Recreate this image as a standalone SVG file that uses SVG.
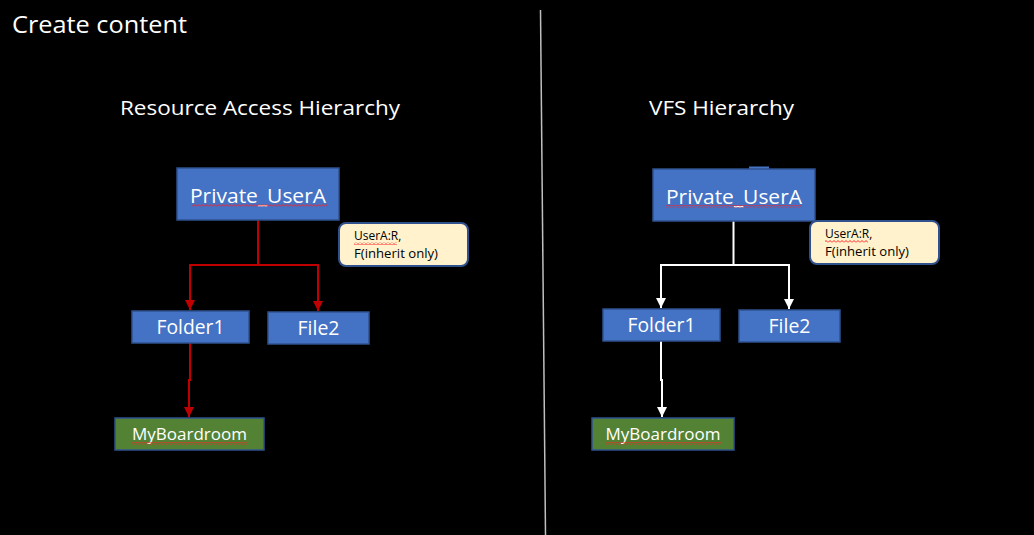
<svg xmlns="http://www.w3.org/2000/svg" width="1034" height="535" viewBox="0 0 1034 535">
<style>
text{font-family:"Open Sans","Liberation Sans",sans-serif;}
.t{fill:#fff;}
.box{fill:#4472C4;stroke:#2F528F;stroke-width:1.5;}
.grn{fill:#548235;stroke:#2F528F;stroke-width:1.5;}
.note{fill:#FFF2CC;stroke:#2F528F;stroke-width:2;}
.lbl{fill:#fff;font-size:20px;text-anchor:middle;}
.sm{fill:#fff;font-size:17px;text-anchor:middle;}
.nt{fill:#000;font-size:12px;}
.red{fill:none;stroke:#C00000;stroke-width:2;}
.wht{fill:none;stroke:#fff;stroke-width:2;}
</style>
<defs>
<marker id="ar" markerUnits="userSpaceOnUse" markerWidth="10" markerHeight="10" refX="10" refY="5" orient="auto"><path d="M0,0 L10,5 L0,10 z" fill="#C00000"/></marker>
<marker id="aw" markerUnits="userSpaceOnUse" markerWidth="10" markerHeight="10" refX="10" refY="5" orient="auto"><path d="M0,0 L10,5 L0,10 z" fill="#fff"/></marker>
<pattern id="sq" patternUnits="userSpaceOnUse" width="4" height="3"><path d="M0,2.5 L2,0.5 L4,2.5" fill="none" stroke="#FF2020" stroke-width="1"/></pattern>
</defs>
<rect width="1034" height="535" fill="#000"/>
<text class="t" x="12" y="33" font-size="24" textLength="175" lengthAdjust="spacingAndGlyphs">Create content</text>
<text class="t" x="120" y="115" font-size="20" textLength="280" lengthAdjust="spacingAndGlyphs">Resource Access Hierarchy</text>
<text class="t" x="649" y="115" font-size="20" textLength="145" lengthAdjust="spacingAndGlyphs">VFS Hierarchy</text>
<line x1="540.5" y1="10" x2="545.5" y2="535" stroke="#BFBFBF" stroke-width="1.5"/>

<g id="connectors">
<path class="red" d="M258,220 V265 H190 V310" marker-end="url(#ar)"/>
<path class="red" d="M258,265 H318 V311" marker-end="url(#ar)"/>
<path class="red" d="M190,343 V380 H189 V417" marker-end="url(#ar)"/>
<path class="wht" d="M733.5,221 V265 H661 V308" marker-end="url(#aw)"/>
<path class="wht" d="M733.5,265 H789 V309" marker-end="url(#aw)"/>
<path class="wht" d="M661,341 V380 H662 V417" marker-end="url(#aw)"/>
</g>

<g id="ra-private">
<rect class="box" x="177" y="168" width="162" height="52"/>
<text class="lbl" x="258" y="203" textLength="136" lengthAdjust="spacingAndGlyphs">Private_UserA</text>
<rect x="192" y="204" width="136" height="3" fill="url(#sq)"/>
</g>
<g id="ra-note">
<rect class="note" x="339" y="223" width="129" height="43" rx="7"/>
<text class="nt" x="354" y="240">UserA:R,</text>
<text class="nt" x="354" y="258" textLength="84" lengthAdjust="spacingAndGlyphs">F(inherit only)</text>
<rect x="354" y="242" width="43" height="3" fill="url(#sq)"/>
</g>
<g id="ra-folder1">
<rect class="box" x="132" y="311" width="117" height="32"/>
<text class="lbl" x="190.5" y="334" textLength="68" lengthAdjust="spacingAndGlyphs">Folder1</text>
</g>
<g id="ra-file2">
<rect class="box" x="268" y="312" width="101" height="32"/>
<text class="lbl" x="318.5" y="335" textLength="42" lengthAdjust="spacingAndGlyphs">File2</text>
</g>
<g id="ra-myboardroom">
<rect class="grn" x="115" y="418" width="149" height="32"/>
<text class="sm" x="189.5" y="440" textLength="115" lengthAdjust="spacingAndGlyphs">MyBoardroom</text>
<rect x="132" y="442" width="115" height="3" fill="url(#sq)"/>
</g>

<g id="vfs-private">
<rect x="749" y="166.5" width="20" height="3" fill="#4472C4"/>
<rect class="box" x="653" y="169" width="162" height="52"/>
<text class="lbl" x="734" y="204" textLength="136" lengthAdjust="spacingAndGlyphs">Private_UserA</text>
<rect x="666" y="205" width="136" height="3" fill="url(#sq)"/>
</g>
<g id="vfs-note">
<rect class="note" x="810" y="221" width="129" height="43" rx="7"/>
<text class="nt" x="825" y="238">UserA:R,</text>
<text class="nt" x="825" y="256" textLength="84" lengthAdjust="spacingAndGlyphs">F(inherit only)</text>
<rect x="825" y="240" width="43" height="3" fill="url(#sq)"/>
</g>
<g id="vfs-folder1">
<rect class="box" x="603" y="309" width="117" height="32"/>
<text class="lbl" x="661.5" y="332" textLength="68" lengthAdjust="spacingAndGlyphs">Folder1</text>
</g>
<g id="vfs-file2">
<rect class="box" x="739" y="310" width="101" height="32"/>
<text class="lbl" x="789.5" y="333" textLength="42" lengthAdjust="spacingAndGlyphs">File2</text>
</g>
<g id="vfs-myboardroom">
<rect class="grn" x="592" y="418" width="142" height="32"/>
<text class="sm" x="663" y="440" textLength="115" lengthAdjust="spacingAndGlyphs">MyBoardroom</text>
<rect x="606" y="442" width="115" height="3" fill="url(#sq)"/>
</g>
</svg>
